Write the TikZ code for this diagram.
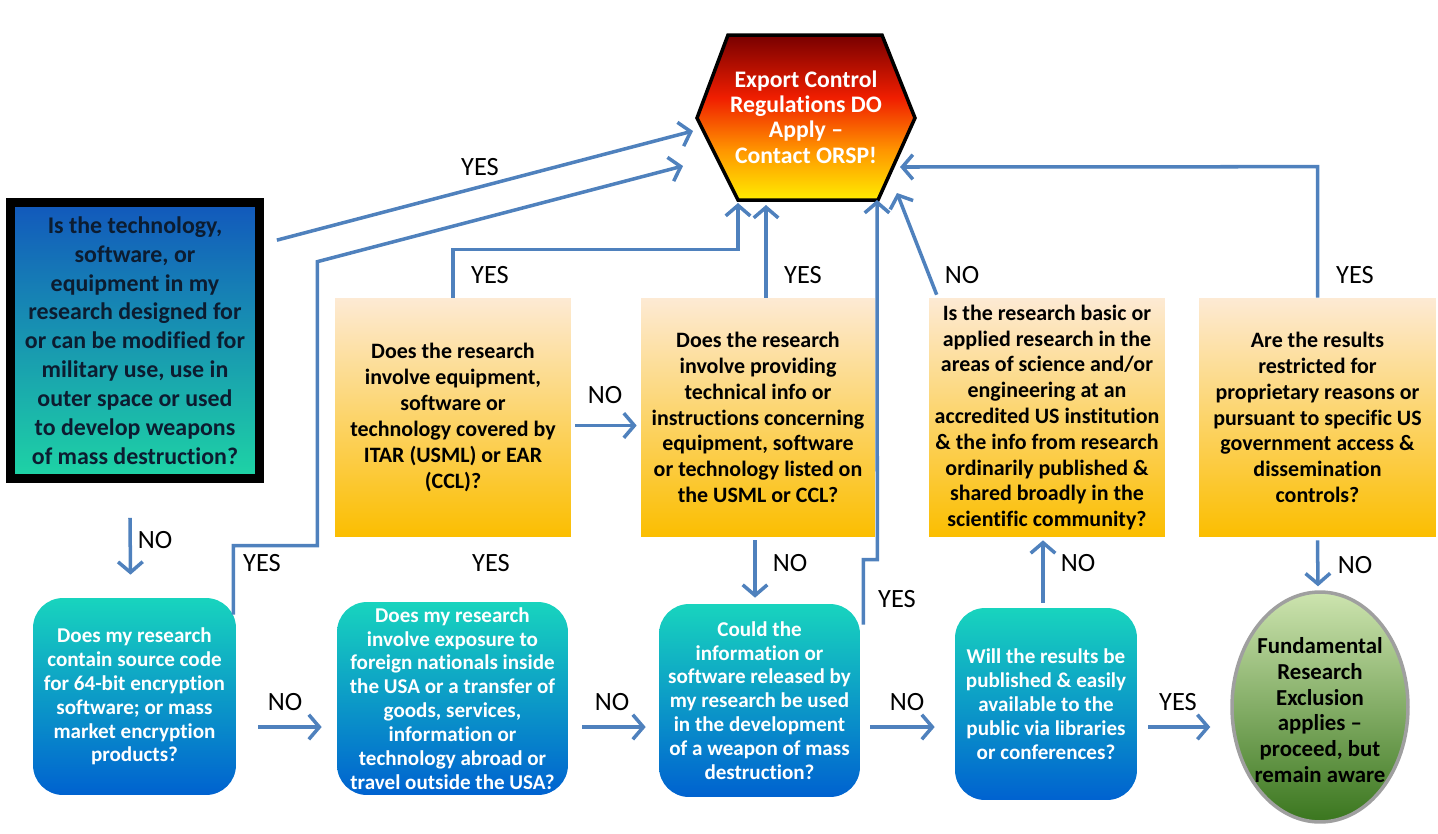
\documentclass[tikz,border=0pt]{standalone}
\usepackage{fontspec}
\setmainfont[Ligatures={NoCommon}]{Carlito}
\usetikzlibrary{arrows.meta,calc,shapes.geometric}

\definecolor{flowblue}{RGB}{79,129,189}
\definecolor{hexyellow}{RGB}{255,236,0}
\definecolor{hexorange}{RGB}{255,150,0}
\definecolor{hexred}{RGB}{240,30,0}
\definecolor{hexdark}{RGB}{120,0,0}
\definecolor{techtop}{RGB}{18,88,188}
\definecolor{techmid}{RGB}{28,160,225}
\definecolor{techbot}{RGB}{30,212,165}
\definecolor{techtext}{RGB}{12,28,48}
\definecolor{ytop}{RGB}{253,234,212}
\definecolor{ymid}{RGB}{246,240,140}
\definecolor{ybot}{RGB}{251,190,0}
\definecolor{qteal}{RGB}{24,212,190}
\definecolor{qmid}{RGB}{20,168,222}
\definecolor{qblue}{RGB}{0,98,208}
\definecolor{gtop}{RGB}{205,228,175}
\definecolor{gmid}{RGB}{125,178,82}
\definecolor{gbot}{RGB}{58,118,30}

\pgfdeclareverticalshading{exportshade}{100bp}{color(0bp)=(hexyellow); color(25bp)=(hexyellow); color(40bp)=(hexorange); color(56bp)=(hexred); color(75bp)=(hexdark); color(100bp)=(hexdark)}

\tikzset{
  flow/.style={->, draw=flowblue, line width=2pt},
  answer/.style={font=\fontsize{15}{18}\selectfont, inner sep=0pt},
  yellowq/.style={rectangle, top color=ytop, middle color=ymid, bottom color=ybot,
    minimum height=4.78cm, inner sep=0pt, align=center,
    font=\bfseries\fontsize{12.5}{14.7}\selectfont},
  tealq/.style={rectangle, rounded corners=0.6cm, top color=qteal, middle color=qmid,
    bottom color=qblue, text=white, inner sep=0pt, align=center,
    font=\bfseries\fontsize{12}{13.6}\selectfont}
}

\begin{document}
\begin{tikzpicture}[x=0.02cm, y=-0.02cm, >={Straight Barb[length=6pt,width=14pt]}]
  \useasboundingbox (0,0) rectangle (1438,833);

  % outcome at the top
  \draw[shade, shading=exportshade, draw=black, line width=2pt]
    (728,35) -- (882,35) -- (915,118) -- (878,200) -- (738,200) -- (697,118) -- cycle;
  \node[text=white, align=center, font=\bfseries\fontsize{13.5}{14.5}\selectfont] (Export) at (806,117)
    {Export Control\\Regulations DO\\Apply –\\Contact ORSP!};
  \coordinate (hW1) at (693,131);
  \coordinate (hW2) at (683,166);
  \coordinate (hS1) at (738,203);
  \coordinate (hS2) at (766,205);
  \coordinate (hS3) at (877,200);
  \coordinate (hS4) at (897,193);
  \coordinate (hE) at (900,167);

  % questions
  \node[draw=black, line width=5pt, top color=techtop, middle color=techmid, bottom color=techbot,
        minimum width=4.98cm, minimum height=5.52cm, inner sep=0pt, align=center, text=techtext,
        font=\bfseries\fontsize{13.6}{16.4}\selectfont] (Tech) at (135,340.5)
    {Is the technology,\\software, or\\equipment in my\\research designed for\\or can be modified for\\military use, use in\\outer space or used\\to develop weapons\\of mass destruction?};

  \node[yellowq, minimum width=4.72cm] (Itar) at (453,417.5)
    {Does the research\\involve equipment,\\software or\\technology covered by\\ITAR (USML) or EAR\\(CCL)?};
  \node[yellowq, minimum width=4.68cm] (Listed) at (758,417.5)
    {Does the research\\involve providing\\technical info or\\instructions concerning\\equipment, software\\or technology listed on\\the USML or CCL?};
  \node[yellowq, minimum width=4.72cm] (Basic) at (1047,417.5)
    {Is the research basic or\\applied research in the\\areas of science and/or\\engineering at an\\accredited US institution\\\& the info from research\\ordinarily published \&\\shared broadly in the\\scientific community?};
  \node[yellowq, minimum width=4.74cm] (Restricted) at (1317.5,417.5)
    {Are the results\\restricted for\\proprietary reasons or\\pursuant to specific US\\government access \&\\dissemination\\controls?};

  \node[tealq, minimum width=4.06cm, minimum height=3.94cm] (Encryption) at (134.5,696.5)
    {Does my research\\contain source code\\for 64-bit encryption\\software; or mass\\market encryption\\products?};
  \node[tealq, minimum width=4.62cm, minimum height=3.86cm] (Foreign) at (452.5,698.5)
    {Does my research\\involve exposure to\\foreign nationals inside\\the USA or a transfer of\\goods, services,\\information or\\technology abroad or\\travel outside the USA?};
  \node[tealq, minimum width=4.02cm, minimum height=3.86cm] (Weapon) at (759.5,700.5)
    {Could the\\information or\\software released by\\my research be used\\in the development\\of a weapon of mass\\destruction?};
  \node[tealq, minimum width=3.64cm, minimum height=3.84cm] (Published) at (1046,704)
    {Will the results be\\published \& easily\\available to the\\public via libraries\\or conferences?};

  % outcome at the right
  \node[ellipse, draw=gray!75, line width=2pt, top color=gtop, middle color=gmid, bottom color=gbot,
        minimum width=3.52cm, minimum height=4.6cm, inner sep=0pt] (Exclusion) at (1320,707) {};
  \node[align=center, font=\bfseries\fontsize{13}{14.7}\selectfont] (ExclusionText) at (1320,710)
    {Fundamental\\Research\\Exclusion\\applies –\\proceed, but\\remain aware};

  % connectors to the top
  \draw[flow] ($(Tech.north east)+(13,42)$) to (hW1);
  \draw[flow] ($(Encryption.north east)+(-3,17)$) -- ++(0,-69) -- ++(84,0) -- ++(0,-284) -- (hW2);
  \draw[flow] (Itar.north) -- ++(0,-48) -| (hS1);
  \draw[flow] (Listed.north -| hS2) to (hS2);
  \draw[flow] ($(Weapon.north east)+(3,21)$) -- ++(0,-65) -- ++(14,0) -- (hS3);
  \draw[flow] ($(Basic.north west)+(8,-3)$) to (hS4);
  \draw[flow] (Restricted.north) -- ++(0,-131) -- (hE);

  % connectors between questions
  \draw[flow] ($(Tech.south)+(-5,35)$) to ($(Encryption.north)+(-4,-23)$);
  \draw[flow] ($(Itar.east)+(4,8)$) to ($(Listed.west)+(-4,8)$);
  \draw[flow] ($(Listed.south)+(-3,3)$) to ($(Weapon.north)+(-4.5,-6)$);
  \draw[flow] ($(Published.north)+(-3,-5)$) to ($(Basic.south)+(-4,3)$);
  \draw[flow] ($(Restricted.south)+(0,3)$) to ($(Exclusion.north)+(-2,-4)$);

  \coordinate (row) at (0,727);
  \draw[flow] ($(Encryption.east |- row)+(22,0)$) to ($(Foreign.west |- row)+(-15,0)$);
  \draw[flow] ($(Foreign.east |- row)+(14,0)$) to ($(Weapon.west |- row)+(-13,0)$);
  \draw[flow] ($(Weapon.east |- row)+(10,0)$) to ($(Published.west |- row)+(-20,0)$);
  \draw[flow] ($(Published.east |- row)+(11,0)$) to ($(Exclusion.west |- row)+(-20,0)$);

  % answers
  \node[answer] (YesTech) at (480,167) {YES};
  \node[answer] (YesEncryption) at (262,563) {YES};
  \node[answer] (YesItar) at (490,275) {YES};
  \node[answer] (YesListed) at (803,275) {YES};
  \node[answer] (YesWeapon) at (897,599) {YES};
  \node[answer] (NoBasic) at (962,275) {NO};
  \node[answer] (YesRestricted) at (1355,275) {YES};
  \node[answer] (NoTech) at (155,540) {NO};
  \node[answer] (NoEncryption) at (285,702) {NO};
  \node[answer] (NoItar) at (605,395) {NO};
  \node[answer] (YesForeign) at (491,563) {YES};
  \node[answer] (NoForeign) at (612,702) {NO};
  \node[answer] (NoListed) at (790,563) {NO};
  \node[answer] (NoWeapon) at (907,702) {NO};
  \node[answer] (NoPublished) at (1078,563) {NO};
  \node[answer] (YesPublished) at (1178,702) {YES};
  \node[answer] (NoRestricted) at (1355,565) {NO};
\end{tikzpicture}
\end{document}
